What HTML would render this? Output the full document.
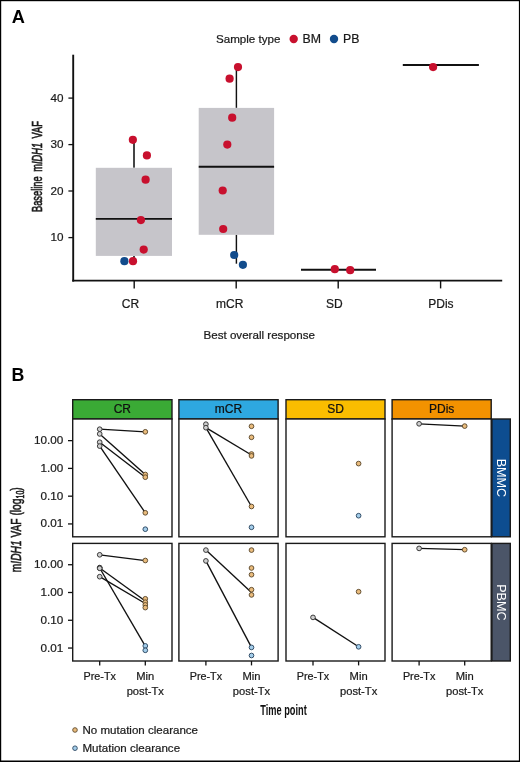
<!DOCTYPE html>
<html><head><meta charset="utf-8"><style>
html,body{margin:0;padding:0;background:#fff;}
svg{display:block;font-family:"Liberation Sans", sans-serif;will-change:transform;}
</style></head><body>
<svg width="520" height="762" viewBox="0 0 520 762">
<text x="11.70" y="22.80" font-size="18.2" text-anchor="start" fill="#000" font-weight="bold" >A</text>
<text x="216.00" y="43.30" font-size="11.6" text-anchor="start" fill="#1a1a1a" font-weight="normal" stroke="#1a1a1a" stroke-width="0.22" >Sample type</text>
<circle cx="293.70" cy="39.00" r="4.2" fill="#c8102e"/>
<text x="302.60" y="43.30" font-size="12.3" text-anchor="start" fill="#1a1a1a" font-weight="normal" stroke="#1a1a1a" stroke-width="0.22" >BM</text>
<circle cx="334.00" cy="39.00" r="4.2" fill="#124c8c"/>
<text x="343.00" y="43.30" font-size="12.3" text-anchor="start" fill="#1a1a1a" font-weight="normal" stroke="#1a1a1a" stroke-width="0.22" >PB</text>
<line x1="134.00" y1="139.80" x2="134.00" y2="167.80" stroke="#454545" stroke-width="2.0" stroke-linecap="butt"/>
<line x1="134.00" y1="255.90" x2="134.00" y2="261.00" stroke="#454545" stroke-width="2.0" stroke-linecap="butt"/>
<rect x="95.8" y="167.8" width="76.20" height="88.10" fill="#c6c5ca"/>
<line x1="95.80" y1="218.90" x2="172.00" y2="218.90" stroke="#111" stroke-width="1.9" stroke-linecap="butt"/>
<line x1="236.40" y1="67.10" x2="236.40" y2="107.90" stroke="#111" stroke-width="1.45" stroke-linecap="butt"/>
<line x1="236.40" y1="234.80" x2="236.40" y2="263.70" stroke="#111" stroke-width="1.45" stroke-linecap="butt"/>
<rect x="198.7" y="107.9" width="75.40" height="126.90" fill="#c6c5ca"/>
<line x1="198.70" y1="166.80" x2="274.10" y2="166.80" stroke="#111" stroke-width="1.9" stroke-linecap="butt"/>
<line x1="301.00" y1="269.70" x2="376.00" y2="269.70" stroke="#111" stroke-width="1.9" stroke-linecap="butt"/>
<line x1="402.80" y1="65.00" x2="478.90" y2="65.00" stroke="#111" stroke-width="1.9" stroke-linecap="butt"/>
<circle cx="132.85" cy="139.85" r="4.1" fill="#c8102e"/>
<circle cx="146.90" cy="155.40" r="4.1" fill="#c8102e"/>
<circle cx="145.60" cy="179.70" r="4.1" fill="#c8102e"/>
<circle cx="140.90" cy="220.10" r="4.1" fill="#c8102e"/>
<circle cx="143.70" cy="249.60" r="4.1" fill="#c8102e"/>
<circle cx="124.40" cy="261.20" r="4.1" fill="#124c8c"/>
<circle cx="133.00" cy="261.20" r="4.1" fill="#c8102e"/>
<circle cx="238.00" cy="67.10" r="4.1" fill="#c8102e"/>
<circle cx="229.60" cy="78.70" r="4.1" fill="#c8102e"/>
<circle cx="232.20" cy="117.70" r="4.1" fill="#c8102e"/>
<circle cx="227.30" cy="144.60" r="4.1" fill="#c8102e"/>
<circle cx="222.70" cy="190.50" r="4.1" fill="#c8102e"/>
<circle cx="223.20" cy="229.00" r="4.1" fill="#c8102e"/>
<circle cx="234.20" cy="255.00" r="4.1" fill="#124c8c"/>
<circle cx="242.90" cy="264.80" r="4.1" fill="#124c8c"/>
<circle cx="334.80" cy="269.20" r="4.1" fill="#c8102e"/>
<circle cx="350.20" cy="270.20" r="4.1" fill="#c8102e"/>
<circle cx="433.10" cy="67.10" r="4.1" fill="#c8102e"/>
<line x1="73.20" y1="54.70" x2="73.20" y2="281.60" stroke="#111" stroke-width="1.9" stroke-linecap="butt"/>
<line x1="72.25" y1="280.60" x2="502.20" y2="280.60" stroke="#111" stroke-width="1.9" stroke-linecap="butt"/>
<line x1="68.40" y1="98.10" x2="73.20" y2="98.10" stroke="#111" stroke-width="1.3" stroke-linecap="butt"/>
<text x="63.50" y="101.70" font-size="11.7" text-anchor="end" fill="#1a1a1a" font-weight="normal" stroke="#1a1a1a" stroke-width="0.22" >40</text>
<line x1="68.40" y1="144.60" x2="73.20" y2="144.60" stroke="#111" stroke-width="1.3" stroke-linecap="butt"/>
<text x="63.50" y="148.20" font-size="11.7" text-anchor="end" fill="#1a1a1a" font-weight="normal" stroke="#1a1a1a" stroke-width="0.22" >30</text>
<line x1="68.40" y1="191.00" x2="73.20" y2="191.00" stroke="#111" stroke-width="1.3" stroke-linecap="butt"/>
<text x="63.50" y="194.60" font-size="11.7" text-anchor="end" fill="#1a1a1a" font-weight="normal" stroke="#1a1a1a" stroke-width="0.22" >20</text>
<line x1="68.40" y1="237.60" x2="73.20" y2="237.60" stroke="#111" stroke-width="1.3" stroke-linecap="butt"/>
<text x="63.50" y="241.20" font-size="11.7" text-anchor="end" fill="#1a1a1a" font-weight="normal" stroke="#1a1a1a" stroke-width="0.22" >10</text>
<line x1="134.20" y1="280.60" x2="134.20" y2="288.40" stroke="#111" stroke-width="1.4" stroke-linecap="butt"/>
<line x1="236.20" y1="280.60" x2="236.20" y2="288.40" stroke="#111" stroke-width="1.4" stroke-linecap="butt"/>
<line x1="338.20" y1="280.60" x2="338.20" y2="288.40" stroke="#111" stroke-width="1.4" stroke-linecap="butt"/>
<line x1="440.60" y1="280.60" x2="440.60" y2="288.40" stroke="#111" stroke-width="1.4" stroke-linecap="butt"/>
<text x="130.50" y="307.60" font-size="12.0" text-anchor="middle" fill="#1a1a1a" font-weight="normal" stroke="#1a1a1a" stroke-width="0.22" >CR</text>
<text x="229.70" y="307.60" font-size="12.0" text-anchor="middle" fill="#1a1a1a" font-weight="normal" stroke="#1a1a1a" stroke-width="0.22" >mCR</text>
<text x="334.40" y="307.60" font-size="12.0" text-anchor="middle" fill="#1a1a1a" font-weight="normal" stroke="#1a1a1a" stroke-width="0.22" >SD</text>
<text x="440.90" y="307.60" font-size="12.0" text-anchor="middle" fill="#1a1a1a" font-weight="normal" stroke="#1a1a1a" stroke-width="0.22" >PDis</text>
<text x="203.50" y="339.00" font-size="11.6" text-anchor="start" fill="#1a1a1a" font-weight="normal" stroke="#1a1a1a" stroke-width="0.22" >Best overall response</text>
<g transform="translate(42.0,166.5) rotate(-90) scale(0.646,1)"><text x="0" y="0" font-size="14.4" text-anchor="middle" fill="#1a1a1a" stroke="#1a1a1a" stroke-width="0.65" word-spacing="3">Baseline m<tspan font-style="italic">IDH1</tspan> VAF</text></g>
<text x="11.60" y="380.50" font-size="17.8" text-anchor="start" fill="#000" font-weight="bold" >B</text>
<rect x="72.70" y="399.70" width="99.30" height="19.30" fill="#3aaa35" stroke="#1a1a1a" stroke-width="1.4"/>
<text x="122.35" y="413.00" font-size="12" text-anchor="middle" fill="#111" font-weight="normal" stroke="#111" stroke-width="0.22" >CR</text>
<rect x="72.70" y="419.00" width="99.30" height="117.80" fill="#fff" stroke="#1a1a1a" stroke-width="1.4"/>
<rect x="72.70" y="543.40" width="99.30" height="117.60" fill="#fff" stroke="#1a1a1a" stroke-width="1.4"/>
<rect x="178.90" y="399.70" width="99.20" height="19.30" fill="#2ea8e0" stroke="#1a1a1a" stroke-width="1.4"/>
<text x="228.50" y="413.00" font-size="12" text-anchor="middle" fill="#111" font-weight="normal" stroke="#111" stroke-width="0.22" >mCR</text>
<rect x="178.90" y="419.00" width="99.20" height="117.80" fill="#fff" stroke="#1a1a1a" stroke-width="1.4"/>
<rect x="178.90" y="543.40" width="99.20" height="117.60" fill="#fff" stroke="#1a1a1a" stroke-width="1.4"/>
<rect x="286.00" y="399.70" width="99.00" height="19.30" fill="#fabd00" stroke="#1a1a1a" stroke-width="1.4"/>
<text x="335.50" y="413.00" font-size="12" text-anchor="middle" fill="#111" font-weight="normal" stroke="#111" stroke-width="0.22" >SD</text>
<rect x="286.00" y="419.00" width="99.00" height="117.80" fill="#fff" stroke="#1a1a1a" stroke-width="1.4"/>
<rect x="286.00" y="543.40" width="99.00" height="117.60" fill="#fff" stroke="#1a1a1a" stroke-width="1.4"/>
<rect x="392.10" y="399.70" width="99.10" height="19.30" fill="#f39200" stroke="#1a1a1a" stroke-width="1.4"/>
<text x="441.65" y="413.00" font-size="12" text-anchor="middle" fill="#111" font-weight="normal" stroke="#111" stroke-width="0.22" >PDis</text>
<rect x="392.10" y="419.00" width="99.10" height="117.80" fill="#fff" stroke="#1a1a1a" stroke-width="1.4"/>
<rect x="392.10" y="543.40" width="99.10" height="117.60" fill="#fff" stroke="#1a1a1a" stroke-width="1.4"/>
<rect x="491.90" y="419.00" width="18.40" height="117.80" fill="#0d4d90" stroke="#1a1a1a" stroke-width="1.4"/>
<rect x="491.90" y="543.40" width="18.40" height="117.60" fill="#4b5568" stroke="#1a1a1a" stroke-width="1.4"/>
<g transform="translate(496.6,477.9) rotate(90)"><text x="0" y="0" font-size="12.6" text-anchor="middle" fill="#fff">BMMC</text></g>
<g transform="translate(496.6,602.4) rotate(90)"><text x="0" y="0" font-size="12.6" text-anchor="middle" fill="#fff">PBMC</text></g>
<line x1="68.00" y1="440.63" x2="72.70" y2="440.63" stroke="#111" stroke-width="1.3" stroke-linecap="butt"/>
<text x="63.30" y="444.13" font-size="11.7" text-anchor="end" fill="#1a1a1a" font-weight="normal" stroke="#1a1a1a" stroke-width="0.22" >10.00</text>
<line x1="68.00" y1="468.40" x2="72.70" y2="468.40" stroke="#111" stroke-width="1.3" stroke-linecap="butt"/>
<text x="63.30" y="471.90" font-size="11.7" text-anchor="end" fill="#1a1a1a" font-weight="normal" stroke="#1a1a1a" stroke-width="0.22" >1.00</text>
<line x1="68.00" y1="496.17" x2="72.70" y2="496.17" stroke="#111" stroke-width="1.3" stroke-linecap="butt"/>
<text x="63.30" y="499.67" font-size="11.7" text-anchor="end" fill="#1a1a1a" font-weight="normal" stroke="#1a1a1a" stroke-width="0.22" >0.10</text>
<line x1="68.00" y1="523.94" x2="72.70" y2="523.94" stroke="#111" stroke-width="1.3" stroke-linecap="butt"/>
<text x="63.30" y="527.44" font-size="11.7" text-anchor="end" fill="#1a1a1a" font-weight="normal" stroke="#1a1a1a" stroke-width="0.22" >0.01</text>
<line x1="68.00" y1="564.73" x2="72.70" y2="564.73" stroke="#111" stroke-width="1.3" stroke-linecap="butt"/>
<text x="63.30" y="568.23" font-size="11.7" text-anchor="end" fill="#1a1a1a" font-weight="normal" stroke="#1a1a1a" stroke-width="0.22" >10.00</text>
<line x1="68.00" y1="592.50" x2="72.70" y2="592.50" stroke="#111" stroke-width="1.3" stroke-linecap="butt"/>
<text x="63.30" y="596.00" font-size="11.7" text-anchor="end" fill="#1a1a1a" font-weight="normal" stroke="#1a1a1a" stroke-width="0.22" >1.00</text>
<line x1="68.00" y1="620.27" x2="72.70" y2="620.27" stroke="#111" stroke-width="1.3" stroke-linecap="butt"/>
<text x="63.30" y="623.77" font-size="11.7" text-anchor="end" fill="#1a1a1a" font-weight="normal" stroke="#1a1a1a" stroke-width="0.22" >0.10</text>
<line x1="68.00" y1="648.04" x2="72.70" y2="648.04" stroke="#111" stroke-width="1.3" stroke-linecap="butt"/>
<text x="63.30" y="651.54" font-size="11.7" text-anchor="end" fill="#1a1a1a" font-weight="normal" stroke="#1a1a1a" stroke-width="0.22" >0.01</text>
<line x1="99.70" y1="661.00" x2="99.70" y2="665.40" stroke="#111" stroke-width="1.3" stroke-linecap="butt"/>
<line x1="145.30" y1="661.00" x2="145.30" y2="665.40" stroke="#111" stroke-width="1.3" stroke-linecap="butt"/>
<text x="99.70" y="680.40" font-size="10.8" text-anchor="middle" fill="#1a1a1a" font-weight="normal" stroke="#1a1a1a" stroke-width="0.22" >Pre-Tx</text>
<text x="145.30" y="680.40" font-size="11.2" text-anchor="middle" fill="#1a1a1a" font-weight="normal" stroke="#1a1a1a" stroke-width="0.22" >Min</text>
<text x="145.30" y="695.20" font-size="11.2" text-anchor="middle" fill="#1a1a1a" font-weight="normal" stroke="#1a1a1a" stroke-width="0.22" >post-Tx</text>
<line x1="205.90" y1="661.00" x2="205.90" y2="665.40" stroke="#111" stroke-width="1.3" stroke-linecap="butt"/>
<line x1="251.50" y1="661.00" x2="251.50" y2="665.40" stroke="#111" stroke-width="1.3" stroke-linecap="butt"/>
<text x="205.90" y="680.40" font-size="10.8" text-anchor="middle" fill="#1a1a1a" font-weight="normal" stroke="#1a1a1a" stroke-width="0.22" >Pre-Tx</text>
<text x="251.50" y="680.40" font-size="11.2" text-anchor="middle" fill="#1a1a1a" font-weight="normal" stroke="#1a1a1a" stroke-width="0.22" >Min</text>
<text x="251.50" y="695.20" font-size="11.2" text-anchor="middle" fill="#1a1a1a" font-weight="normal" stroke="#1a1a1a" stroke-width="0.22" >post-Tx</text>
<line x1="313.00" y1="661.00" x2="313.00" y2="665.40" stroke="#111" stroke-width="1.3" stroke-linecap="butt"/>
<line x1="358.60" y1="661.00" x2="358.60" y2="665.40" stroke="#111" stroke-width="1.3" stroke-linecap="butt"/>
<text x="313.00" y="680.40" font-size="10.8" text-anchor="middle" fill="#1a1a1a" font-weight="normal" stroke="#1a1a1a" stroke-width="0.22" >Pre-Tx</text>
<text x="358.60" y="680.40" font-size="11.2" text-anchor="middle" fill="#1a1a1a" font-weight="normal" stroke="#1a1a1a" stroke-width="0.22" >Min</text>
<text x="358.60" y="695.20" font-size="11.2" text-anchor="middle" fill="#1a1a1a" font-weight="normal" stroke="#1a1a1a" stroke-width="0.22" >post-Tx</text>
<line x1="419.10" y1="661.00" x2="419.10" y2="665.40" stroke="#111" stroke-width="1.3" stroke-linecap="butt"/>
<line x1="464.70" y1="661.00" x2="464.70" y2="665.40" stroke="#111" stroke-width="1.3" stroke-linecap="butt"/>
<text x="419.10" y="680.40" font-size="10.8" text-anchor="middle" fill="#1a1a1a" font-weight="normal" stroke="#1a1a1a" stroke-width="0.22" >Pre-Tx</text>
<text x="464.70" y="680.40" font-size="11.2" text-anchor="middle" fill="#1a1a1a" font-weight="normal" stroke="#1a1a1a" stroke-width="0.22" >Min</text>
<text x="464.70" y="695.20" font-size="11.2" text-anchor="middle" fill="#1a1a1a" font-weight="normal" stroke="#1a1a1a" stroke-width="0.22" >post-Tx</text>
<g transform="translate(20.8,529.7) rotate(-90) scale(0.71,1)"><text x="0" y="0" font-size="14.4" text-anchor="middle" fill="#1a1a1a" stroke="#1a1a1a" stroke-width="0.6">m<tspan font-style="italic">IDH1</tspan> VAF (log<tspan font-size="10" dy="3">10</tspan><tspan dy="-3">)</tspan></text></g>
<g transform="translate(283.5,714.9) scale(0.646,1)"><text x="0" y="0" font-size="14.3" font-weight="bold" text-anchor="middle" fill="#111">Time point</text></g>
<circle cx="75.00" cy="730.00" r="2.3" fill="#e9bb7c" stroke="#5e4a2c" stroke-width="0.9"/>
<text x="82.50" y="733.70" font-size="11.55" text-anchor="start" fill="#1a1a1a" font-weight="normal" stroke="#1a1a1a" stroke-width="0.22" >No mutation clearance</text>
<circle cx="75.00" cy="748.20" r="2.3" fill="#a3cdea" stroke="#2c4862" stroke-width="0.9"/>
<text x="82.50" y="751.90" font-size="11.55" text-anchor="start" fill="#1a1a1a" font-weight="normal" stroke="#1a1a1a" stroke-width="0.22" >Mutation clearance</text>
<line x1="99.70" y1="429.20" x2="145.30" y2="431.80" stroke="#111" stroke-width="1.35" stroke-linecap="butt"/>
<line x1="99.70" y1="433.90" x2="145.30" y2="474.50" stroke="#111" stroke-width="1.35" stroke-linecap="butt"/>
<line x1="99.70" y1="442.20" x2="145.30" y2="477.20" stroke="#111" stroke-width="1.35" stroke-linecap="butt"/>
<line x1="99.70" y1="446.10" x2="145.30" y2="512.80" stroke="#111" stroke-width="1.35" stroke-linecap="butt"/>
<circle cx="99.70" cy="429.20" r="2.35" fill="#cfcfcf" stroke="#333" stroke-width="0.95"/>
<circle cx="99.70" cy="433.90" r="2.35" fill="#cfcfcf" stroke="#333" stroke-width="0.95"/>
<circle cx="99.70" cy="442.20" r="2.35" fill="#cfcfcf" stroke="#333" stroke-width="0.95"/>
<circle cx="99.70" cy="446.10" r="2.35" fill="#cfcfcf" stroke="#333" stroke-width="0.95"/>
<circle cx="145.30" cy="431.80" r="2.35" fill="#e9bb7c" stroke="#5e4a2c" stroke-width="0.95"/>
<circle cx="145.30" cy="474.50" r="2.35" fill="#e9bb7c" stroke="#5e4a2c" stroke-width="0.95"/>
<circle cx="145.30" cy="477.20" r="2.35" fill="#e9bb7c" stroke="#5e4a2c" stroke-width="0.95"/>
<circle cx="145.30" cy="512.80" r="2.35" fill="#e9bb7c" stroke="#5e4a2c" stroke-width="0.95"/>
<circle cx="145.30" cy="529.20" r="2.35" fill="#a3cdea" stroke="#2c4862" stroke-width="0.95"/>
<line x1="205.90" y1="427.70" x2="251.50" y2="455.00" stroke="#111" stroke-width="1.35" stroke-linecap="butt"/>
<line x1="205.90" y1="427.70" x2="251.50" y2="506.50" stroke="#111" stroke-width="1.35" stroke-linecap="butt"/>
<circle cx="205.90" cy="424.20" r="2.35" fill="#cfcfcf" stroke="#333" stroke-width="0.95"/>
<circle cx="205.90" cy="427.70" r="2.35" fill="#cfcfcf" stroke="#333" stroke-width="0.95"/>
<circle cx="251.50" cy="426.30" r="2.35" fill="#e9bb7c" stroke="#5e4a2c" stroke-width="0.95"/>
<circle cx="251.50" cy="437.30" r="2.35" fill="#e9bb7c" stroke="#5e4a2c" stroke-width="0.95"/>
<circle cx="251.50" cy="454.00" r="2.35" fill="#e9bb7c" stroke="#5e4a2c" stroke-width="0.95"/>
<circle cx="251.50" cy="455.90" r="2.35" fill="#e9bb7c" stroke="#5e4a2c" stroke-width="0.95"/>
<circle cx="251.50" cy="506.50" r="2.35" fill="#e9bb7c" stroke="#5e4a2c" stroke-width="0.95"/>
<circle cx="251.50" cy="527.30" r="2.35" fill="#a3cdea" stroke="#2c4862" stroke-width="0.95"/>
<circle cx="358.60" cy="463.60" r="2.35" fill="#e9bb7c" stroke="#5e4a2c" stroke-width="0.95"/>
<circle cx="358.60" cy="515.70" r="2.35" fill="#a3cdea" stroke="#2c4862" stroke-width="0.95"/>
<line x1="419.10" y1="423.80" x2="464.70" y2="426.10" stroke="#111" stroke-width="1.35" stroke-linecap="butt"/>
<circle cx="419.10" cy="423.80" r="2.35" fill="#cfcfcf" stroke="#333" stroke-width="0.95"/>
<circle cx="464.70" cy="426.10" r="2.35" fill="#e9bb7c" stroke="#5e4a2c" stroke-width="0.95"/>
<line x1="99.70" y1="554.80" x2="145.30" y2="560.60" stroke="#111" stroke-width="1.35" stroke-linecap="butt"/>
<line x1="99.70" y1="568.00" x2="145.30" y2="601.00" stroke="#111" stroke-width="1.35" stroke-linecap="butt"/>
<line x1="99.70" y1="576.70" x2="145.30" y2="603.50" stroke="#111" stroke-width="1.35" stroke-linecap="butt"/>
<line x1="99.70" y1="568.00" x2="145.30" y2="646.20" stroke="#111" stroke-width="1.35" stroke-linecap="butt"/>
<circle cx="99.70" cy="554.80" r="2.35" fill="#cfcfcf" stroke="#333" stroke-width="0.95"/>
<circle cx="99.70" cy="567.60" r="2.35" fill="#cfcfcf" stroke="#333" stroke-width="0.95"/>
<circle cx="99.70" cy="568.00" r="2.35" fill="#cfcfcf" stroke="#333" stroke-width="0.95"/>
<circle cx="99.70" cy="568.30" r="2.35" fill="#cfcfcf" stroke="#333" stroke-width="0.95"/>
<circle cx="99.70" cy="576.70" r="2.35" fill="#cfcfcf" stroke="#333" stroke-width="0.95"/>
<circle cx="145.30" cy="560.50" r="2.35" fill="#e9bb7c" stroke="#5e4a2c" stroke-width="0.95"/>
<circle cx="145.30" cy="598.80" r="2.35" fill="#e9bb7c" stroke="#5e4a2c" stroke-width="0.95"/>
<circle cx="145.30" cy="602.20" r="2.35" fill="#e9bb7c" stroke="#5e4a2c" stroke-width="0.95"/>
<circle cx="145.30" cy="604.90" r="2.35" fill="#e9bb7c" stroke="#5e4a2c" stroke-width="0.95"/>
<circle cx="145.30" cy="607.60" r="2.35" fill="#e9bb7c" stroke="#5e4a2c" stroke-width="0.95"/>
<circle cx="145.30" cy="645.90" r="2.35" fill="#a3cdea" stroke="#2c4862" stroke-width="0.95"/>
<circle cx="145.30" cy="650.30" r="2.35" fill="#a3cdea" stroke="#2c4862" stroke-width="0.95"/>
<line x1="205.90" y1="550.10" x2="251.50" y2="592.50" stroke="#111" stroke-width="1.35" stroke-linecap="butt"/>
<line x1="205.90" y1="560.90" x2="251.50" y2="647.40" stroke="#111" stroke-width="1.35" stroke-linecap="butt"/>
<circle cx="205.90" cy="550.10" r="2.35" fill="#cfcfcf" stroke="#333" stroke-width="0.95"/>
<circle cx="205.90" cy="560.90" r="2.35" fill="#cfcfcf" stroke="#333" stroke-width="0.95"/>
<circle cx="251.50" cy="550.10" r="2.35" fill="#e9bb7c" stroke="#5e4a2c" stroke-width="0.95"/>
<circle cx="251.50" cy="568.00" r="2.35" fill="#e9bb7c" stroke="#5e4a2c" stroke-width="0.95"/>
<circle cx="251.50" cy="574.70" r="2.35" fill="#e9bb7c" stroke="#5e4a2c" stroke-width="0.95"/>
<circle cx="251.50" cy="589.70" r="2.35" fill="#e9bb7c" stroke="#5e4a2c" stroke-width="0.95"/>
<circle cx="251.50" cy="594.90" r="2.35" fill="#e9bb7c" stroke="#5e4a2c" stroke-width="0.95"/>
<circle cx="251.50" cy="647.40" r="2.35" fill="#a3cdea" stroke="#2c4862" stroke-width="0.95"/>
<circle cx="251.50" cy="655.50" r="2.35" fill="#a3cdea" stroke="#2c4862" stroke-width="0.95"/>
<line x1="313.00" y1="617.40" x2="358.60" y2="646.80" stroke="#111" stroke-width="1.35" stroke-linecap="butt"/>
<circle cx="313.00" cy="617.40" r="2.35" fill="#cfcfcf" stroke="#333" stroke-width="0.95"/>
<circle cx="358.60" cy="591.70" r="2.35" fill="#e9bb7c" stroke="#5e4a2c" stroke-width="0.95"/>
<circle cx="358.60" cy="646.80" r="2.35" fill="#a3cdea" stroke="#2c4862" stroke-width="0.95"/>
<line x1="419.10" y1="548.40" x2="464.70" y2="549.70" stroke="#111" stroke-width="1.35" stroke-linecap="butt"/>
<circle cx="419.10" cy="548.40" r="2.35" fill="#cfcfcf" stroke="#333" stroke-width="0.95"/>
<circle cx="464.70" cy="549.70" r="2.35" fill="#e9bb7c" stroke="#5e4a2c" stroke-width="0.95"/>
<rect x="0" y="0" width="520" height="1.2" fill="#000"/>
<rect x="0" y="0" width="1.2" height="762" fill="#000"/>
<rect x="518.9" y="0" width="1.1" height="762" fill="#000"/>
<rect x="0" y="760.5" width="520" height="1.5" fill="#000"/>
</svg>
</body></html>
